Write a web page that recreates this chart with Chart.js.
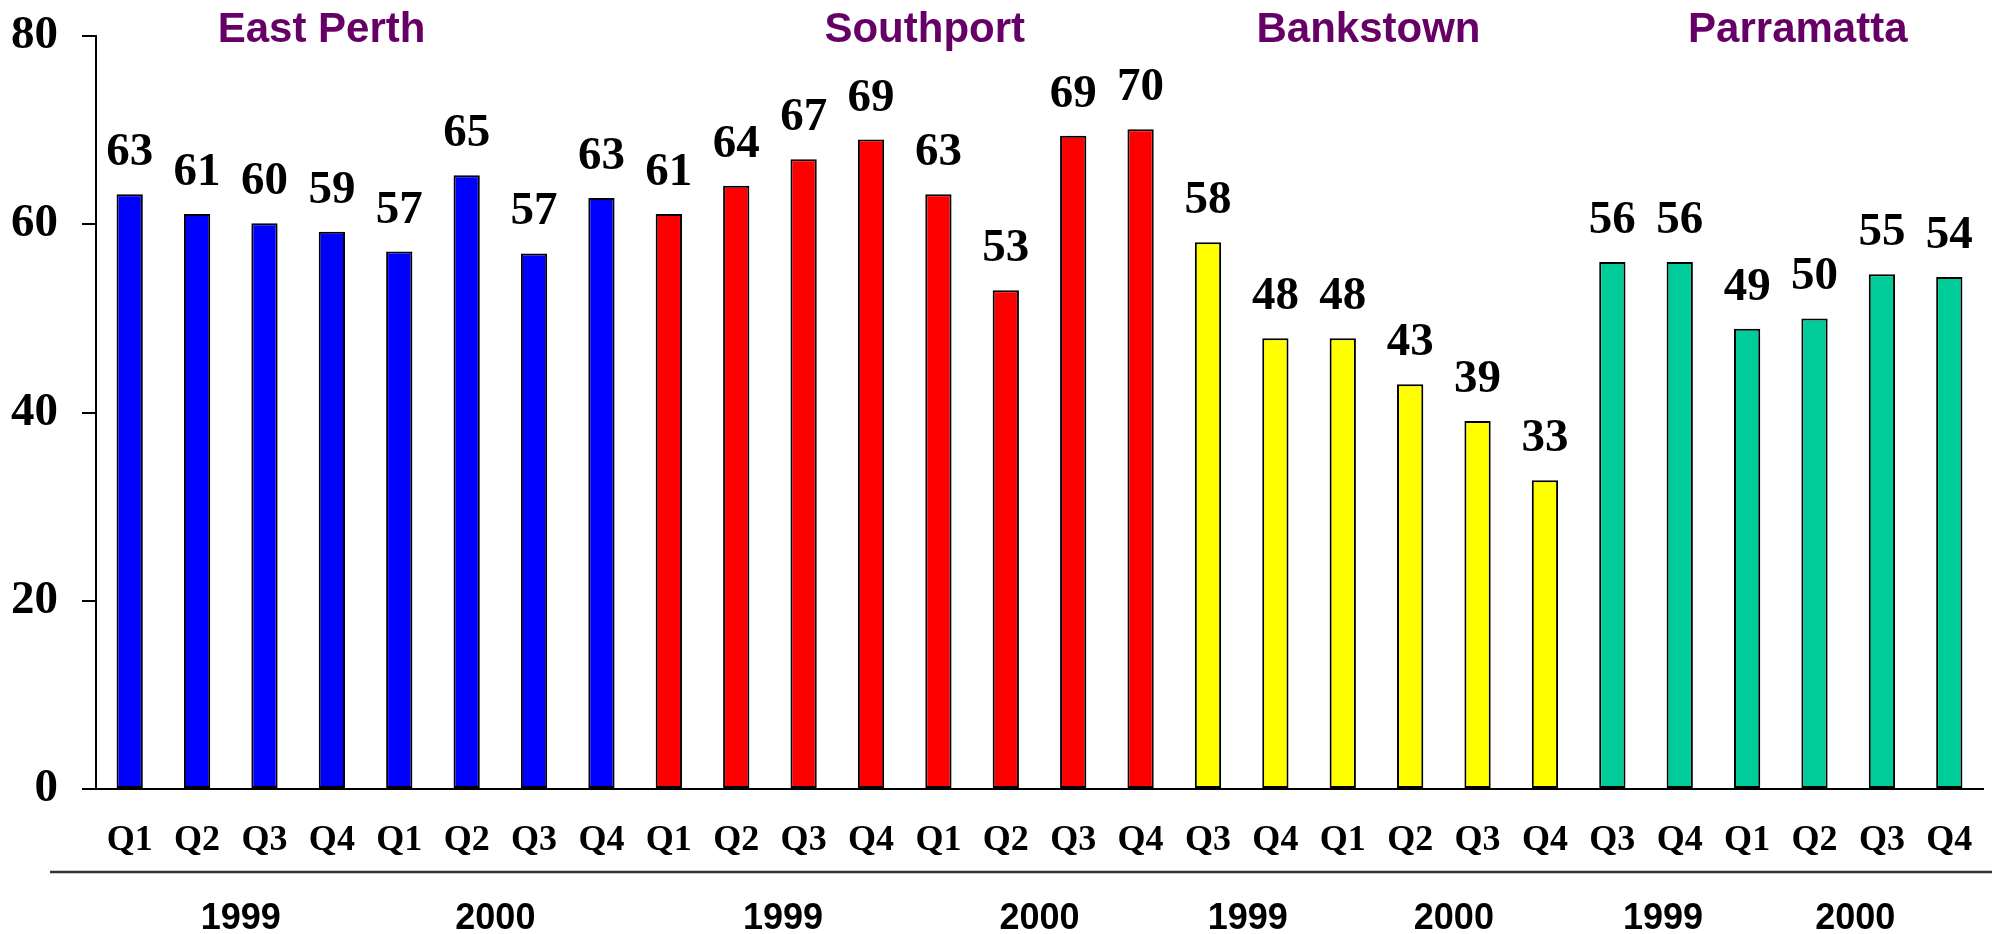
<!DOCTYPE html>
<html>
<head>
<meta charset="utf-8">
<script src="https://cdn.jsdelivr.net/npm/chart.js@4.4.1/dist/chart.umd.min.js"></script>
<style>
  html, body { margin: 0; padding: 0; background: #ffffff; }
  #wrap { width: 1992px; height: 934px; position: relative; }
</style>
</head>
<body>
<div id="wrap"><canvas id="c" width="1992" height="934"></canvas></div>
<script>
// ---- data ----
const groupNames = ['East Perth', 'Southport', 'Bankstown', 'Parramatta'];
const eastPerth  = [63.2, 61.1, 60.1, 59.2, 57.1, 65.2, 56.9, 62.8];
const southport  = [61.1, 64.1, 66.9, 69.0, 63.2, 53.0, 69.4, 70.1];
const bankstown  = [58.1, 47.9, 47.9, 43.0, 39.1, 32.8];
const parramatta = [56.0, 56.0, 48.9, 50.0, 54.7, 54.4];
const eastPerthQuarters  = ['Q1','Q2','Q3','Q4','Q1','Q2','Q3','Q4'];
const southportQuarters  = ['Q1','Q2','Q3','Q4','Q1','Q2','Q3','Q4'];
const bankstownQuarters  = ['Q3','Q4','Q1','Q2','Q3','Q4'];
const parramattaQuarters = ['Q3','Q4','Q1','Q2','Q3','Q4'];
const eastPerthYears  = ['1999','1999','1999','1999','2000','2000','2000','2000'];
const southportYears  = ['1999','1999','1999','1999','2000','2000','2000','2000'];
const bankstownYears  = ['1999','1999','2000','2000','2000','2000'];
const parramattaYears = ['1999','1999','2000','2000','2000','2000'];
const yTicks = [0, 20, 40, 60, 80];

// ---- build ----
const groupValues = [eastPerth, southport, bankstown, parramatta];
const groupQuarters = [eastPerthQuarters, southportQuarters, bankstownQuarters, parramattaQuarters];
const groupYears = [eastPerthYears, southportYears, bankstownYears, parramattaYears];
const groupColors = ['#0000FF', '#FF0000', '#FFFF00', '#00CC99'];

const values = [].concat(...groupValues);
const quarterLabels = [].concat(...groupQuarters);
const barColors = [];
groupValues.forEach((g, gi) => g.forEach(() => barColors.push(groupColors[gi])));

const groupSpans = [];
const yearSpans = [];
let idx = 0;
groupValues.forEach((g, gi) => {
  groupSpans.push({ name: groupNames[gi], start: idx, end: idx + g.length - 1 });
  const yrs = groupYears[gi];
  let s = 0;
  for (let i = 1; i <= yrs.length; i++) {
    if (i === yrs.length || yrs[i] !== yrs[s]) {
      yearSpans.push({ label: yrs[s], start: idx + s, end: idx + i - 1 });
      s = i;
    }
  }
  idx += g.length;
});

// small visual nudges (pixels) to mimic the original placement
const titleNudge = [-44, 20, -8, 17];
const yearNudge = [10, -5, 13, 0, 6, 10, 17, 7];

const overlay = {
  id: 'overlay',
  afterDatasetsDraw(chart) {
    const ctx = chart.ctx;
    const xs = chart.scales.x;
    const meta = chart.getDatasetMeta(0);
    ctx.save();
    ctx.font = 'bold 47px "Liberation Serif", "Times New Roman", serif';
    ctx.fillStyle = '#000000';
    ctx.textAlign = 'center';
    ctx.textBaseline = 'alphabetic';
    meta.data.forEach((bar, i) => {
      ctx.fillText(String(Math.round(values[i])), bar.x, bar.y - 29);
    });
    ctx.font = 'bold 42px "Liberation Sans", Arial, sans-serif';
    ctx.fillStyle = '#660066';
    groupSpans.forEach((g, gi) => {
      const cx = (xs.getPixelForValue(g.start) + xs.getPixelForValue(g.end)) / 2 + titleNudge[gi];
      ctx.fillText(g.name, cx, 42);
    });
    ctx.strokeStyle = '#333333';
    ctx.lineWidth = 2.5;
    ctx.beginPath();
    ctx.moveTo(50, 872);
    ctx.lineTo(1992, 872);
    ctx.stroke();
    ctx.font = 'bold 36px "Liberation Sans", Arial, sans-serif';
    ctx.fillStyle = '#000000';
    yearSpans.forEach((y, yi) => {
      const cx = (xs.getPixelForValue(y.start) + xs.getPixelForValue(y.end)) / 2 + yearNudge[yi];
      ctx.fillText(y.label, cx, 929);
    });
    ctx.restore();
  }
};

new Chart(document.getElementById('c'), {
  type: 'bar',
  data: {
    labels: quarterLabels,
    datasets: [{
      data: values,
      backgroundColor: barColors,
      borderColor: '#000000',
      borderWidth: 2,
      borderSkipped: false,
      barPercentage: 0.39,
      categoryPercentage: 1.0
    }]
  },
  options: {
    responsive: false,
    animation: false,
    devicePixelRatio: 1,
    layout: { padding: { top: 36, right: 9, left: 0, bottom: 0 } },
    plugins: {
      legend: { display: false },
      tooltip: { enabled: false },
      title: { display: false }
    },
    scales: {
      x: {
        type: 'category',
        offset: true,
        border: { display: true, color: '#000000', width: 2 },
        grid: { display: true, drawOnChartArea: false, drawTicks: false },
        ticks: {
          color: '#000000',
          padding: 30,
          maxRotation: 0,
          autoSkip: false,
          font: { family: '"Liberation Serif", "Times New Roman", serif', size: 36, weight: 'bold' }
        },
        afterFit(scale) { scale.height = 145; scale.paddingLeft = 0; scale.paddingRight = 0; }
      },
      y: {
        min: 0,
        max: 80,
        afterBuildTicks(scale) { scale.ticks = yTicks.map(v => ({ value: v })); },
        border: { display: true, color: '#000000', width: 2 },
        grid: { display: true, drawOnChartArea: false, drawTicks: true, tickLength: 14, color: '#000000', lineWidth: 2 },
        ticks: {
          color: '#000000',
          padding: 24,
          font: { family: '"Liberation Serif", "Times New Roman", serif', size: 47, weight: 'bold' }
        },
        afterFit(scale) { scale.width = 96; scale.paddingTop = 0; scale.paddingBottom = 0; }
      }
    }
  },
  plugins: [overlay]
});
</script>
</body>
</html>
